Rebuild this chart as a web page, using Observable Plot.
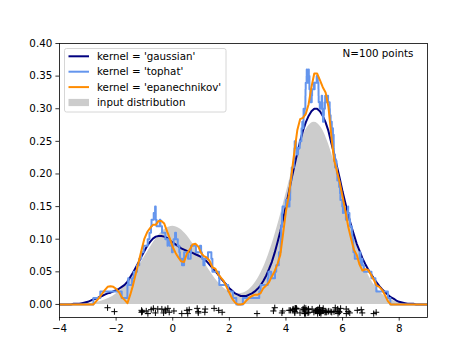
<!DOCTYPE html>
<html><head>
<meta charset="utf-8">
<script src="https://cdn.jsdelivr.net/npm/d3@7"></script>
<script src="https://cdn.jsdelivr.net/npm/@observablehq/plot@0.6"></script>
<style>body{margin:0;background:#fff}</style>
</head><body>
<script>
// sample points (the "+" markers)
const samples = [1.624,-0.612,-0.528,-1.073,0.865,-2.302,1.745,-0.761,0.319,-0.249,1.462,-2.060,-0.322,-0.384,1.134,-1.100,-0.172,-0.878,0.042,0.583,-1.101,1.145,0.902,0.502,0.901,-0.684,-0.123,-0.936,-0.268,0.530,
4.308,4.603,4.313,4.155,4.329,4.987,3.883,5.234,6.660,5.742,4.808,4.112,4.253,6.692,5.051,4.363,5.191,7.100,5.120,5.617,5.300,4.648,3.857,4.651,4.791,5.587,5.839,5.931,5.286,5.885,4.246,6.253,5.513,4.702,5.489,4.924,6.132,6.520,7.186,3.604,3.556,4.496,5.160,5.876,5.316,2.978,4.694,5.828,5.230,5.762,4.778,4.799,5.187,5.410,5.198,5.119,4.329,5.378,5.122,6.129,6.199,5.185,4.625,4.361,5.423,5.077,4.656,5.044,4.380,5.698];
const markerY = [-0.009,-0.013,-0.007,-0.011,-0.006,-0.005,-0.012,-0.008,-0.014,-0.010,-0.006,-0.011,-0.013,-0.007,-0.012,-0.009,-0.006,-0.014,-0.010,-0.008,-0.012,-0.007,-0.013,-0.009,-0.011,-0.006,-0.012,-0.010,-0.008,-0.014,
-0.011,-0.007,-0.013,-0.009,-0.006,-0.012,-0.010,-0.014,-0.008,-0.005,-0.012,-0.009,-0.007,-0.013,-0.010,-0.006,-0.011,-0.014,-0.008,-0.012,-0.009,-0.005,-0.013,-0.010,-0.007,-0.011,-0.014,-0.006,-0.009,-0.012,-0.008,-0.013,-0.010,-0.006,-0.011,-0.007,-0.014,-0.009,-0.012,-0.005,-0.010,-0.013,-0.008,-0.011,-0.006,-0.014,-0.014,-0.007,-0.012,-0.010,-0.013,-0.008,-0.005,-0.011,-0.009,-0.014,-0.006,-0.012,-0.010,-0.007,-0.011,-0.013,-0.008,-0.006,-0.012,-0.009,-0.014,-0.010,-0.007,-0.011];

// input distribution
const densityX = [-4,-3.75,-3.5,-3.25,-3,-2.75,-2.5,-2.25,-2,-1.75,-1.5,-1.25,-1,-0.75,-0.5,-0.25,0,0.25,0.5,0.75,1,1.25,1.5,1.75,2,2.25,2.5,2.75,3,3.25,3.5,3.75,4,4.25,4.5,4.75,5,5.25,5.5,5.75,6,6.25,6.5,6.75,7,7.25,7.5,7.75,8,8.25,8.5,8.75,9];
const inputDensity = [0,0.0001,0.0003,0.0006,0.0013,0.0027,0.0053,0.0095,0.0162,0.0259,0.0389,0.0548,0.0726,0.0903,0.1056,0.1160,0.1197,0.1160,0.1056,0.0903,0.0727,0.0550,0.0395,0.0273,0.0193,0.0159,0.0176,0.0249,0.0391,0.0610,0.0910,0.1280,0.1694,0.2108,0.2464,0.2707,0.2793,0.2707,0.2464,0.2108,0.1694,0.1279,0.0907,0.0604,0.0378,0.0222,0.0123,0.0064,0.0031,0.0014,0.0006,0.0002,0.0001];

// gaussian and epanechnikov estimates
const kdeX = [-4,-3.9,-3.8,-3.7,-3.6,-3.5,-3.4,-3.3,-3.2,-3.1,-3,-2.9,-2.8,-2.7,-2.6,-2.5,-2.4,-2.3,-2.2,-2.1,-2,-1.9,-1.8,-1.7,-1.6,-1.5,-1.4,-1.3,-1.2,-1.1,-1,-0.9,-0.8,-0.7,-0.6,-0.5,-0.4,-0.3,-0.2,-0.1,0,0.1,0.2,0.3,0.4,0.5,0.6,0.7,0.8,0.9,1,1.1,1.2,1.3,1.4,1.5,1.6,1.7,1.8,1.9,2,2.1,2.2,2.3,2.4,2.5,2.6,2.7,2.8,2.9,3,3.1,3.2,3.3,3.4,3.5,3.6,3.7,3.8,3.9,4,4.1,4.2,4.3,4.4,4.5,4.6,4.7,4.8,4.9,5,5.1,5.2,5.3,5.4,5.5,5.6,5.7,5.8,5.9,6,6.1,6.2,6.3,6.4,6.5,6.6,6.7,6.8,6.9,7,7.1,7.2,7.3,7.4,7.5,7.6,7.7,7.8,7.9,8,8.1,8.2,8.3,8.4,8.5,8.6,8.7,8.8,8.9,9];
const gaussian = [0,0,0,0,0,.001,.001,.001,.002,.003,.004,.006,.008,.009,.011,.013,.015,.017,.018,.020,.022,.024,.027,.030,.035,.042,.049,.057,.065,.074,.082,.090,.096,.101,.104,.105,.105,.104,.102,.098,.095,.092,.089,.086,.084,.082,.081,.079,.077,.075,.073,.069,.066,.061,.056,.051,.046,.040,.035,.030,.025,.021,.017,.015,.013,.013,.013,.015,.017,.020,.024,.029,.036,.044,.054,.065,.079,.095,.112,.131,.151,.172,.193,.213,.232,.250,.266,.279,.289,.296,.300,.300,.296,.289,.279,.266,.248,.231,.212,.193,.173,.155,.138,.121,.107,.093,.082,.071,.062,.054,.047,.040,.034,.028,.023,.019,.015,.011,.009,.006,.004,.003,.002,.001,.001,.001,0,0,0,0,0];
const epanechnikov = [0,0,0,0,0,0,0,0,0,0,0,0,0,.005,.010,.016,.022,.027,.028,.027,.024,.019,.011,.007,.002,.015,.030,.048,.066,.084,.101,.111,.117,.122,.122,.128,.128,.124,.112,.101,.088,.079,.072,.066,.065,.078,.084,.092,.093,.089,.079,.074,.072,.067,.057,.055,.047,.041,.036,.027,.018,.009,.003,0,0,.001,.006,.010,.013,.015,.015,.017,.025,.029,.034,.043,.051,.062,.076,.109,.143,.167,.200,.235,.267,.284,.286,.292,.307,.333,.354,.354,.344,.333,.325,.303,.260,.221,.204,.187,.165,.143,.119,.101,.084,.076,.061,.052,.054,.053,.046,.038,.029,.027,.022,.014,.005,0,0,0,0,0,0,0,0,0,0,0,0,0,0];

// tophat estimate: breakpoints and the level that starts at each
const tophatX = [-4,-2.802,-2.560,-1.802,-1.601,-1.600,-1.573,-1.560,-1.436,-1.378,-1.261,-1.184,-1.112,-1.028,-0.884,-0.822,-0.768,-0.749,-0.672,-0.623,-0.601,-0.600,-0.573,-0.458,-0.436,-0.378,-0.261,-0.184,-0.181,-0.112,-0.028,0.002,0.030,0.083,0.116,0.178,0.232,0.251,0.328,0.365,0.377,0.401,0.402,0.542,0.634,0.645,0.819,0.962,1.002,1.030,1.083,1.124,1.245,1.365,1.401,1.402,1.634,1.645,1.962,2.124,2.245,
2.478,3.056,3.104,3.357,3.383,3.478,3.612,3.655,3.746,3.753,3.808,3.813,3.829,3.829,3.861,3.863,3.880,3.996,4.056,4.103,4.104,4.125,4.148,4.151,4.156,4.194,4.202,4.278,4.291,4.299,4.308,4.357,4.383,4.424,4.487,4.544,4.551,4.577,4.612,4.619,4.620,4.622,4.655,4.660,4.685,4.687,4.691,4.698,4.730,4.734,4.746,4.753,4.786,4.800,4.808,4.813,4.816,4.829,4.829,4.861,4.863,4.878,4.880,4.910,4.923,4.989,4.996,5.013,5.087,5.103,5.117,5.125,5.148,5.151,5.156,5.194,5.198,5.202,5.242,5.262,5.278,5.291,5.299,5.308,5.328,5.339,5.376,5.385,5.424,5.431,5.487,5.544,5.551,5.577,5.619,5.620,5.622,5.629,5.632,5.660,5.685,5.687,5.691,5.698,5.699,5.730,5.734,5.753,5.786,5.800,5.816,5.878,5.910,5.923,5.989,6.013,6.020,6.087,6.117,6.160,6.192,6.198,6.242,6.262,6.328,6.339,6.376,6.385,6.431,6.600,6.629,6.632,6.686,6.699,6.753,7.020,7.160,7.192,7.600,7.686,9];
const tophat = [0,.01,.02,.01,.02,.03,.04,.03,.04,.05,.06,.07,.08,.09,.10,.11,.12,.13,.14,.15,.14,.13,.12,.13,.12,.11,.10,.09,.10,.09,.08,.09,.10,.11,.10,.09,.08,.07,.06,.07,.06,.07,.08,.07,.08,.09,.08,.09,.08,.07,.06,.07,.08,.07,.06,.05,.04,.03,.02,.01,0,
.01,.02,.03,.04,.05,.04,.05,.06,.07,.08,.09,.10,.11,.12,.13,.14,.15,.16,.15,.16,.15,.16,.17,.18,.19,.20,.21,.22,.23,.24,.25,.24,.23,.24,.25,.26,.27,.28,.27,.28,.29,.30,.29,.30,.31,.32,.33,.34,.35,.36,.35,.34,.35,.36,.35,.34,.35,.34,.33,.32,.31,.32,.31,.32,.33,.34,.33,.34,.35,.34,.35,.34,.33,.32,.31,.30,.31,.30,.31,.32,.31,.30,.29,.28,.29,.30,.31,.32,.31,.32,.31,.30,.29,.28,.27,.26,.25,.26,.27,.26,.25,.24,.23,.22,.23,.22,.21,.22,.21,.20,.19,.18,.17,.16,.15,.14,.15,.14,.13,.14,.15,.14,.13,.12,.11,.10,.09,.08,.07,.08,.07,.06,.07,.06,.05,.04,.03,.02,.01,0,0];

const xTicks = [-4,-2,0,2,4,6,8];
const yTicks = [0,0.05,0.1,0.15,0.2,0.25,0.3,0.35,0.4];
const series = [
  {label: "kernel = 'gaussian'", color: "navy"},
  {label: "kernel = 'tophat'", color: "cornflowerblue"},
  {label: "kernel = 'epanechnikov'", color: "darkorange"}
];
const sampleCount = "N=100 points";

const plus = {draw(ctx, size) {const h = Math.sqrt(size / Math.PI); ctx.moveTo(-h, 0); ctx.lineTo(h, 0); ctx.moveTo(0, -h); ctx.lineTo(0, h);}};

const fig = Plot.plot({
  width: 474, height: 355,
  marginLeft: 59, marginRight: 47, marginTop: 43, marginBottom: 38,
  style: {fontFamily: "'DejaVu Sans', sans-serif", fontSize: "10.3px", color: "black", background: "white", overflow: "visible"},
  x: {domain: [-4, 9]},
  y: {domain: [-0.02, 0.4]},
  marks: [
    Plot.areaY(densityX, {x: d => d, y: (d, i) => inputDensity[i], fill: "#cccccc", curve: "monotone-x"}),
    Plot.line(kdeX, {x: d => d, y: (d, i) => gaussian[i], stroke: series[0].color, strokeWidth: 2, clip: true}),
    Plot.line(tophatX, {x: d => d, y: (d, i) => tophat[i], curve: "step-after", stroke: series[1].color, strokeWidth: 2, clip: true}),
    Plot.line(kdeX, {x: d => d, y: (d, i) => epanechnikov[i], stroke: series[2].color, strokeWidth: 2, clip: true}),
    Plot.dot(samples, {x: d => d, y: (d, i) => markerY[i], symbol: plus, r: 3.1, stroke: "black", strokeWidth: 1, fill: "none"}),
    Plot.text([sampleCount], {x: () => 6, y: () => 0.38, text: d => d, textAnchor: "start", dy: -3.3, fontSize: 10.3, fill: "black"}),
    Plot.axisX({ticks: xTicks, tickSize: 3.6, tickPadding: 3.6, tickFormat: "d", label: null, strokeWidth: 0.8}),
    Plot.axisY({ticks: yTicks, tickSize: 3.6, tickPadding: 3.6, tickFormat: ".2f", label: null, strokeWidth: 0.8}),
    Plot.frame({stroke: "black", strokeWidth: 0.8})
  ]
});

// legend (upper left, inside the axes)
const svg = d3.select(fig);
const lg = svg.append("g").attr("font-family", "'DejaVu Sans', sans-serif").attr("font-size", "10.3px").attr("text-anchor", "start");
lg.append("rect").attr("x", 64.5).attr("y", 48.5).attr("width", 161.5).attr("height", 63.5).attr("rx", 2)
  .attr("fill", "white").attr("fill-opacity", 0.8).attr("stroke", "#cccccc").attr("stroke-width", 0.8);
const rowY = [56.3, 71.7, 87.1, 102.5];
series.forEach((s, i) => {
  lg.append("line").attr("x1", 68.5).attr("x2", 89).attr("y1", rowY[i]).attr("y2", rowY[i]).attr("stroke", s.color).attr("stroke-width", 2);
  lg.append("text").attr("x", 97).attr("y", rowY[i]).attr("dy", "0.35em").attr("text-anchor", "start").attr("fill", "black").text(s.label);
});
lg.append("rect").attr("x", 68.5).attr("y", rowY[3] - 3.6).attr("width", 20.5).attr("height", 7.2).attr("fill", "#cccccc");
lg.append("text").attr("x", 97).attr("y", rowY[3]).attr("dy", "0.35em").attr("text-anchor", "start").attr("fill", "black").text("input distribution");

document.body.append(fig);
</script></body></html>
